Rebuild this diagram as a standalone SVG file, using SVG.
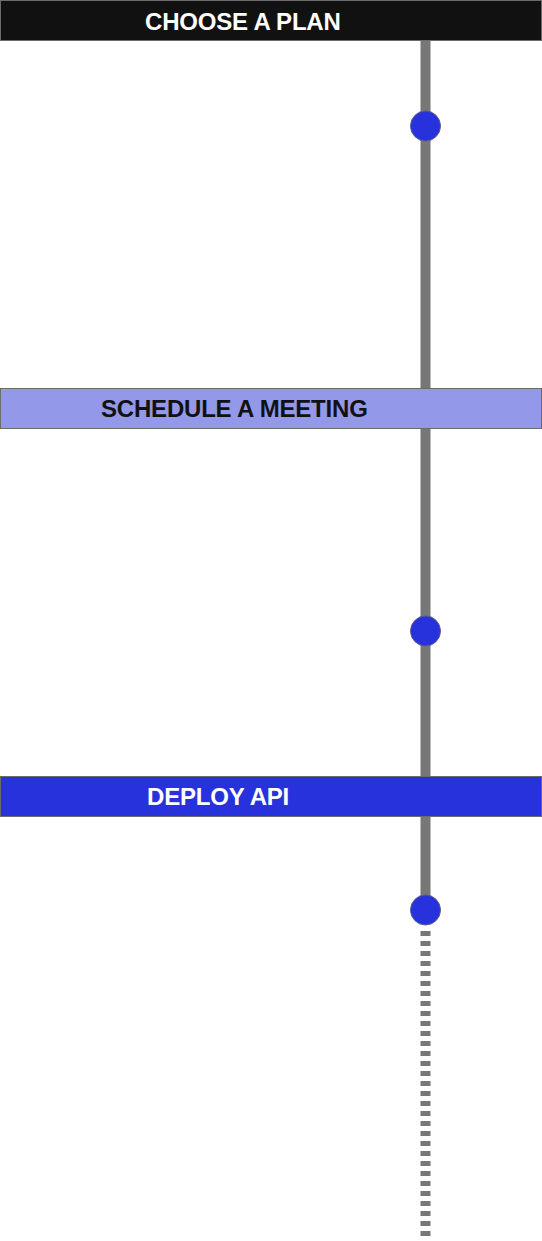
<svg xmlns="http://www.w3.org/2000/svg" width="542" height="1241" viewBox="0 0 542 1241">
<style>
.box{stroke:#6b6b6b;stroke-width:1}
.lbl{font-family:"Liberation Sans",Arial,sans-serif;font-weight:bold;font-size:24px;letter-spacing:-0.2px}
.rail{stroke:#777777;stroke-width:10;fill:none}
.dot{fill:#2832dc;stroke:#5a5a8a;stroke-width:1}
</style>
<rect width="542" height="1241" fill="#ffffff"/>
<g id="connectors">
<line class="rail" x1="425.5" y1="40" x2="425.5" y2="911"/>
<line class="rail" x1="425.5" y1="931" x2="425.5" y2="1236" stroke-dasharray="5 5"/>
</g>
<g id="node-choose-plan">
<rect class="box" x="0.5" y="0.5" width="541" height="40" fill="#111111"/>
<text class="lbl" x="145" y="30" fill="#ffffff">CHOOSE A PLAN</text>
</g>
<g id="node-schedule-meeting">
<rect class="box" x="0.5" y="388.5" width="541" height="40" fill="#9399e8"/>
<text class="lbl" x="101" y="417" fill="#111111">SCHEDULE A MEETING</text>
</g>
<g id="node-deploy-api">
<rect class="box" x="0.5" y="776.5" width="541" height="40" fill="#2832dc"/>
<text class="lbl" x="147" y="805" fill="#ffffff">DEPLOY API</text>
</g>
<g id="dot-1"><circle class="dot" cx="425.5" cy="126" r="15"/></g>
<g id="dot-2"><circle class="dot" cx="425.5" cy="631" r="15"/></g>
<g id="dot-3"><circle class="dot" cx="425.5" cy="910" r="15"/></g>
</svg>
